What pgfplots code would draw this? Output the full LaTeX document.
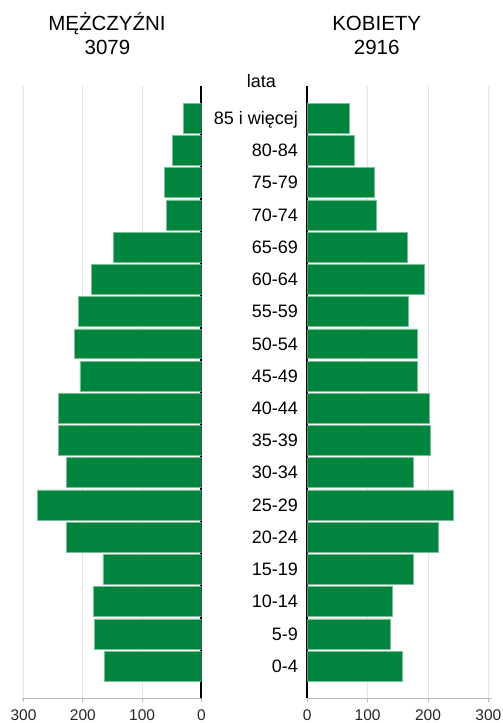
\documentclass[border=0pt]{standalone}
\usepackage{fontspec}
\setmainfont{Liberation Sans}
\usepackage{pgfplots}
\pgfplotsset{compat=1.18}
\definecolor{bargreen}{RGB}{0,132,62}
\definecolor{baredge}{RGB}{120,190,150}
\definecolor{gridgray}{RGB}{228,228,228}
\definecolor{axgray}{RGB}{185,185,185}
\pgfplotsset{pyr/.style={
  scale only axis, height=612.3pt, ymin=-1, ymax=18,
  xbar, bar width=0.93,
  axis x line*=bottom, axis y line*=left,
  y axis line style={draw=none},
  x axis line style={axgray, line width=0.8pt},
  xtick={0,100,200,300},
  xtick style={axgray, line width=0.8pt},
  ytick style={draw=none},
  tick align=outside, major tick length=4pt,
  xmajorgrids, major grid style={gridgray, line width=0.8pt},
  extra x ticks={0}, extra x tick labels={},
  extra x tick style={grid=major, major grid style={black, line width=2pt}, major tick length=0pt},
  /pgf/number format/assume math mode=true,
  xticklabel style={font=\fontsize{15.5}{18}\selectfont, text=black!85, anchor=base, inner sep=0pt, yshift=-18.4pt},
}}
\begin{document}
\begin{tikzpicture}
\useasboundingbox (0pt,0pt) rectangle (503pt,723pt);
% Men
\begin{axis}[pyr, at={(21.7pt,24.7pt)}, anchor=south west, width=179.8pt,
  xmin=0, xmax=303, x dir=reverse, ytick=\empty]
\addplot[fill=bargreen, draw=baredge, line width=0.6pt] coordinates {(163,0) (180,1) (182,2) (166,3) (227,4) (277,5) (227,6) (241,7) (241,8) (205,9) (214,10) (208,11) (186,12) (148,13) (59,14) (63,15) (49,16) (31,17)};
\end{axis}
% Women
\begin{axis}[pyr, at={(307.3pt,24.7pt)}, anchor=south west, width=184.4pt,
  xmin=0, xmax=305.6,
  ytick={0,...,17},
  yticklabels={0-4,5-9,10-14,15-19,20-24,25-29,30-34,35-39,40-44,45-49,50-54,55-59,60-64,65-69,70-74,75-79,80-84,85 i więcej},
  yticklabel style={font=\fontsize{18}{21}\selectfont, anchor=base east, inner sep=0pt, xshift=-5.3pt, yshift=-6.2pt}]
\addplot[fill=bargreen, draw=baredge, line width=0.6pt] coordinates {(157,0) (138,1) (141,2) (176,3) (217,4) (242,5) (175,6) (204,7) (203,8) (183,9) (182,10) (167,11) (194,12) (166,13) (114,14) (111,15) (78,16) (70,17)};
\end{axis}
\node[anchor=base, inner sep=0pt, font=\fontsize{20.5}{24}\selectfont] at (107pt,692pt) {MĘŻCZYŹNI};
\node[anchor=base, inner sep=0pt, font=\fontsize{20.5}{24}\selectfont] at (107.5pt,668pt) {3079};
\node[anchor=base, inner sep=0pt, font=\fontsize{20.5}{24}\selectfont] at (376.7pt,692pt) {KOBIETY};
\node[anchor=base, inner sep=0pt, font=\fontsize{20.5}{24}\selectfont] at (376.7pt,668pt) {2916};
\node[anchor=base, inner sep=0pt, font=\fontsize{18}{21}\selectfont] at (261.3pt,635pt) {lata};
\end{tikzpicture}
\end{document}
